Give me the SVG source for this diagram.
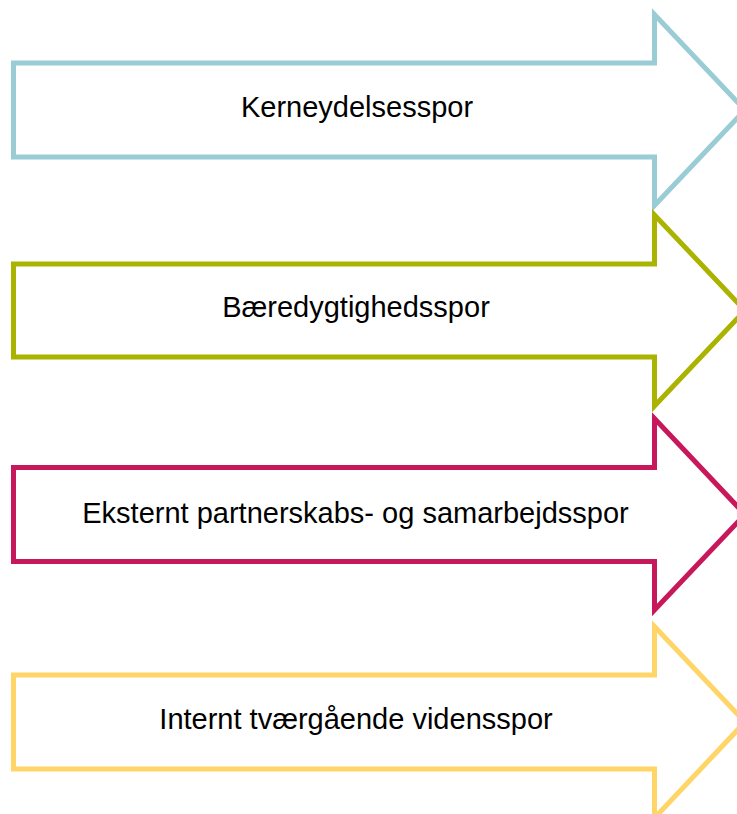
<svg xmlns="http://www.w3.org/2000/svg" width="737" height="814" viewBox="0 0 737 814">
  <style>
    .arrow { fill: #ffffff; stroke-width: 5; stroke-linejoin: miter; stroke-miterlimit: 10; }
    .label { font-family: "Liberation Sans", Arial, sans-serif; font-size: 29px; fill: #000000; text-anchor: middle; }
  </style>
  <rect width="737" height="814" fill="#ffffff"/>
  <g id="arrow-kerneydelsesspor">
    <path class="arrow" stroke="#9ACCD5" d="M13.5,63 H654.5 V14.5 L745,110 L654.5,205.5 V157 H13.5 Z"/>
    <text class="label" x="357" y="117">Kerneydelsesspor</text>
  </g>
  <g id="arrow-baeredygtighedsspor">
    <path class="arrow" stroke="#AAB400" d="M13.5,264 H654.5 V215 L745,310.5 L654.5,406 V357 H13.5 Z"/>
    <text class="label" x="356" y="317">Bæredygtighedsspor</text>
  </g>
  <g id="arrow-eksternt">
    <path class="arrow" stroke="#C8185C" d="M13.5,467.5 H654.5 V418.5 L745,514.5 L654.5,610 V561.5 H13.5 Z"/>
    <text class="label" x="355.5" y="523">Eksternt partnerskabs- og samarbejdsspor</text>
  </g>
  <g id="arrow-internt">
    <path class="arrow" stroke="#FED566" d="M13.5,675 H654.5 V626.5 L745,722 L654.5,818 V769 H13.5 Z"/>
    <text class="label" x="356" y="729">Internt tværgående vidensspor</text>
  </g>
  <g id="connectors"/>
</svg>
